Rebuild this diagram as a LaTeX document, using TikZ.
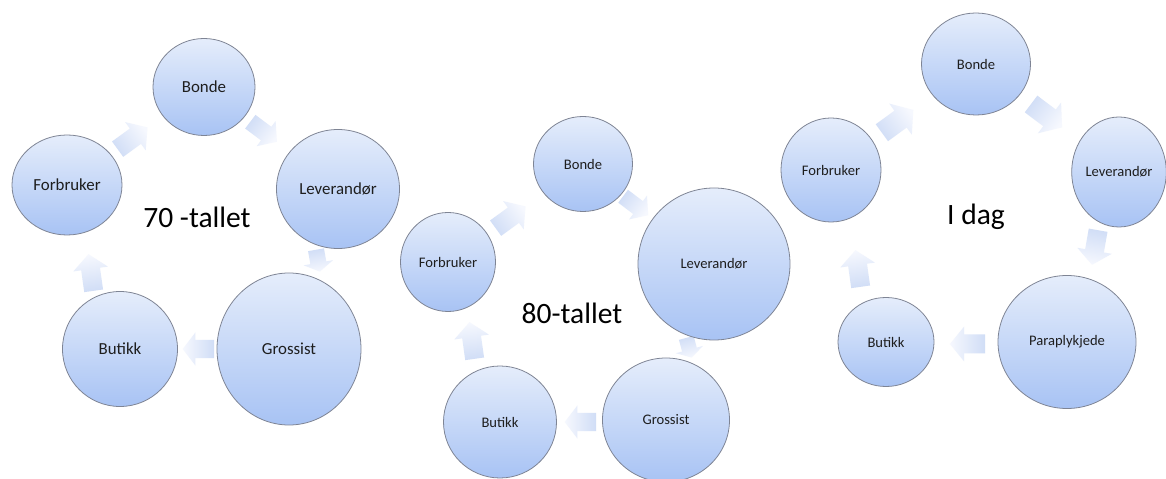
\documentclass[tikz,border=0pt]{standalone}
\usepackage{fontspec}
\setmainfont{Carlito}
\usetikzlibrary{shapes.geometric}
\definecolor{ctop}{HTML}{E5EDFB}
\definecolor{cbot}{HTML}{A8C3F4}
\definecolor{cline}{HTML}{7E8494}
\definecolor{ahead}{HTML}{F6F8FE}
\definecolor{atail}{HTML}{D0DDF6}
\definecolor{txt}{HTML}{1E1E1E}
\tikzset{
  bub/.style 2 args={ellipse, draw=cline, line width=0.45pt,
    top color=ctop, bottom color=cbot, inner sep=0pt,
    minimum width=#1*0.02cm, minimum height=#2*0.02cm, text=txt},
  labA/.style={font=\fontsize{9.6}{11}\selectfont},
  labB/.style={font=\fontsize{8.3}{10}\selectfont},
  bigtext/.style={font=\fontsize{16.8}{19}\selectfont, text=black, inner sep=0pt},
  arrowfill/.style={top color=ahead, bottom color=atail, shading angle={#1-90}}
}
% block arrow: centre x, y, direction angle, width scale, length scale
\newcommand\barrow[5]{%
  \begin{scope}[shift={(#1,#2)}, rotate=#3, xscale=#5, yscale=#4]
    \shade[arrowfill=#3]
      (-19,-9.5) -- (3,-9.5) -- (3,-17.5) -- (18,0) -- (3,17.5) -- (3,9.5) -- (-19,9.5) -- cycle;
  \end{scope}}
\begin{document}
\begin{tikzpicture}[x=0.02cm, y=-0.02cm]
\useasboundingbox[fill=white] (0,0) rectangle (1166,479);

% ---------- arrows (behind the circles) ----------
% 70-tallet
\barrow{133}{138}{36}{1}{1}
\barrow{264}{132}{-37}{0.9}{0.9}
\barrow{318}{261}{-80}{0.85}{0.6}
\barrow{198}{349}{180}{0.95}{0.85}
\barrow{91}{272}{98}{1}{1}
% 80-tallet
\barrow{511}{217}{36}{1}{1}
\barrow{636}{206}{-37}{0.85}{0.85}
\barrow{689}{348}{-75}{0.8}{0.55}
\barrow{580}{422}{180}{0.95}{0.85}
\barrow{472}{340}{98}{1}{1}
% I dag
\barrow{898}{121}{36}{1.1}{1.05}
\barrow{1047}{116}{-37}{1.1}{1.05}
\barrow{1095}{248}{-100}{1}{0.95}
\barrow{967}{344}{180}{1}{0.95}
\barrow{858}{268}{98}{1}{1}

% ---------- 70-tallet ----------
\node[bub={102}{97}, labA]   (b1) at (204,87)  {Bonde};
\node[bub={110}{100}, labA]  (f1) at (67,185)  {Forbruker};
\node[bub={123}{119}, labA]  (l1) at (338,189) {Leverandør};
\node[bub={144}{152}, labA]  (g1) at (289,349) {Grossist};
\node[bub={115}{115}, labA]  (u1) at (120,349) {Butikk};
\node[bigtext] (t1) at (197,217) {70 -tallet};

% ---------- 80-tallet ----------
\node[bub={99}{95}, labB]    (b2) at (583,164) {Bonde};
\node[bub={95}{99}, labB]    (f2) at (448,262) {Forbruker};
\node[bub={152}{152}, labB]  (l2) at (714,264) {Leverandør};
\node[bub={127}{124}, labB]  (g2) at (666,420) {Grossist};
\node[bub={113}{112}, labB]  (u2) at (500,422) {Butikk};
\node[bigtext] (t2) at (572,313) {80-tallet};

% ---------- I dag ----------
\node[bub={109}{102}, labB]  (b3) at (976,64)  {Bonde};
\node[bub={100}{104}, labB]  (f3) at (831,170) {Forbruker};
\node[bub={94}{110}, labB]   (l3) at (1119,172) {Leverandør};
\node[bub={138}{133}, labB]  (p3) at (1067,342) {Paraplykjede};
\node[bub={96}{89}, labB]    (u3) at (886,342) {Butikk};
\node[bigtext] (t3) at (976,217) {I dag};
\end{tikzpicture}
\end{document}
